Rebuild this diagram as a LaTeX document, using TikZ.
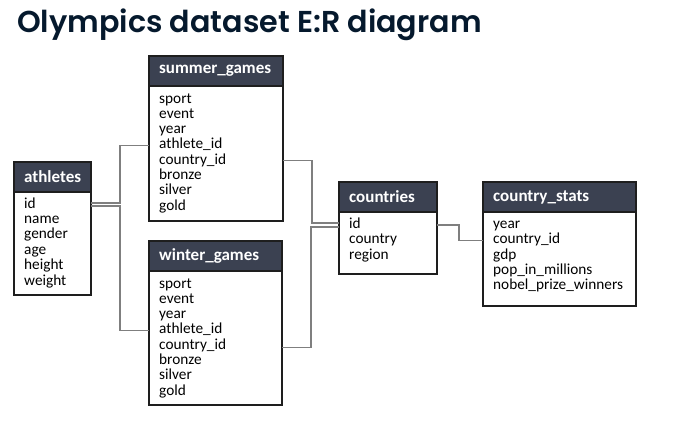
\documentclass[tikz,border=0pt]{standalone}
\usepackage{fontspec}
\setmainfont{Carlito}
\newfontfamily\titlefont{Poppins SemiBold}
\usepackage{xcolor}
\usepackage{tikz}
\usetikzlibrary{calc}

\definecolor{slate}{HTML}{3B4151}
\definecolor{frame}{HTML}{1E1E1E}
\definecolor{wire}{HTML}{7F7F7F}
\definecolor{navy}{HTML}{05192D}

\begin{document}
\begin{tikzpicture}[
		x=1pt, y=-1pt,
		hdr/.style={
			draw=frame, fill=slate, line width=1.2pt,
			minimum height=30pt, anchor=north west,
			inner sep=0pt, outer sep=0pt
			},
		tbl/.style={
			draw=frame, fill=white, line width=1.2pt,
			anchor=north west, inner sep=0pt, outer sep=0pt
			},
		hname/.style={
			text=white, anchor=west, inner sep=0pt,
			font=\fontsize{17}{20}\selectfont\bfseries
			},
		field/.style={
			anchor=base west, inner sep=0pt,
			text height=10pt, text depth=3pt,
			font=\fontsize{15.3}{15}\selectfont
			},
		link/.style={
			draw=wire, line width=1.3pt
			}
		]
		\useasboundingbox (0,0) rectangle (683,429);
		
		\node[anchor=base west, inner sep=0pt, text=navy, font=\titlefont\fontsize{30.2}{31}\selectfont] (title) at (17,32) {Olympics dataset E:R diagram};
		
		% athletes
		\node[hdr, minimum width=77pt] (athh) at (14,162) {};
		\node[hname] at ($(athh.west)+(10,0)$) {athletes};
		\node[tbl, minimum width=77pt, minimum height=103pt] (athb) at (athh.south west) {};
		\foreach \f [count=\i] in {id,name,gender,age,height,weight}
			\node[field] (ath\i) at ($(athb.north west)+(10,{16+15.4*(\i-1)})$) {\f};
		
		% summer_games
		\node[hdr, minimum width=134pt] (sgh) at (149,56) {};
		\node[hname] at ($(sgh.west)+(10,0)$) {summer\_games};
		\node[tbl, minimum width=134pt, minimum height=135pt] (sgb) at (sgh.south west) {};
		\foreach \f [count=\i] in {sport,event,year,athlete\_id,country\_id,bronze,silver,gold}
			\node[field] (sg\i) at ($(sgb.north west)+(10,{17+15.3*(\i-1)})$) {\f};
		
		% winter_games
		\node[hdr, minimum width=133pt] (wgh) at (149,241) {};
		\node[hname] at ($(wgh.west)+(10,0)$) {winter\_games};
		\node[tbl, minimum width=133pt, minimum height=134pt] (wgb) at (wgh.south west) {};
		\foreach \f [count=\i] in {sport,event,year,athlete\_id,country\_id,bronze,silver,gold}
			\node[field] (wg\i) at ($(wgb.north west)+(10,{17+15.3*(\i-1)})$) {\f};
		
		% countries
		\node[hdr, minimum width=98pt] (coh) at (339,182) {};
		\node[hname] at ($(coh.west)+(10,0)$) {countries};
		\node[tbl, minimum width=98pt, minimum height=62pt] (cob) at (coh.south west) {};
		\foreach \f [count=\i] in {id,country,region}
			\node[field] (co\i) at ($(cob.north west)+(10,{16.5+15.3*(\i-1)})$) {\f};
		
		% country_stats
		\node[hdr, minimum width=153pt] (csh) at (483,182) {};
		\node[hname] at ($(csh.west)+(10,0)$) {country\_stats};
		\node[tbl, minimum width=153pt, minimum height=94pt] (csb) at (csh.south west) {};
		\foreach \f [count=\i] in {year,country\_id,gdp,pop\_in\_millions,nobel\_prize\_winners}
			\node[field] (cs\i) at ($(csb.north west)+(10,{16.5+15.3*(\i-1)})$) {\f};
		
		% links
		\draw[link] ($(athb.east |- ath1)+(0,-1.5)$) -- ++(29,0) |- (sgb.west |- sg4);
		\draw[link] ($(athb.east |- ath1)+(0,1.5)$) -- ++(29,0) |- (wgb.west |- wg4);
		\draw[link] (sgb.east |- sg5) -- ++(29,0) |- ($(cob.west |- co1)+(0,-2)$);
		\draw[link] ($(wgb.east |- wg5)+(0,2)$) -- ++(29,0) |- ($(cob.west |- co1)+(0,2)$);
		\draw[link] (cob.east |- co1) -- ++(22,0) |- (csb.west |- cs2);
	\end{tikzpicture}
\end{document}
